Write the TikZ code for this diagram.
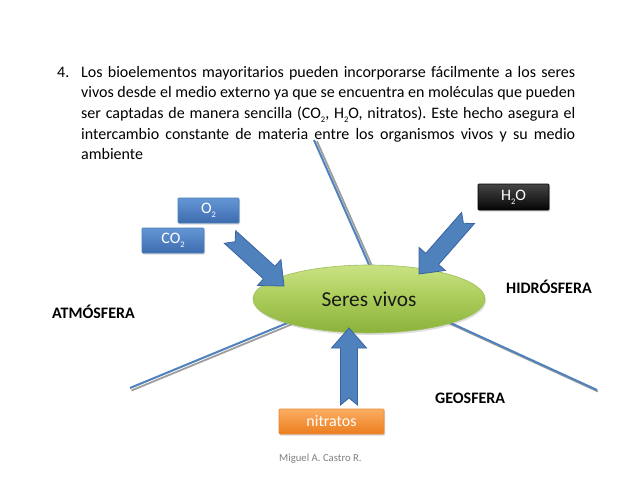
\documentclass[tikz,border=0pt]{standalone}
\usepackage{fontspec}
\setmainfont{Carlito}
\usetikzlibrary{calc,shapes.geometric,shadows}
\pgfdeclarelayer{bg}
\pgfsetlayers{bg,main}
\frenchspacing
\definecolor{accblue}{HTML}{4F81BD}
\definecolor{accblueD}{HTML}{3A64A0}
\definecolor{bbT}{HTML}{6496D6}
\definecolor{bbB}{HTML}{3D6CAE}
\definecolor{bbD}{HTML}{4A7EBB}
\definecolor{kbT}{HTML}{454545}
\definecolor{kbB}{HTML}{050505}
\definecolor{obT}{HTML}{FBAE62}
\definecolor{obB}{HTML}{EC7D1E}
\definecolor{obD}{HTML}{E68A36}
\definecolor{elT}{HTML}{CAE283}
\definecolor{elM}{HTML}{A9CC58}
\definecolor{elB}{HTML}{8CB23B}
\definecolor{elD}{HTML}{9DBE5C}
\newcommand\lowsub[1]{\raisebox{-0.5ex}{\fontsize{8.5}{9}\selectfont #1}}
\newcommand\blockarr[2]{%
  \coordinate (ba-hb) at ($(#2)!20pt!(#1)$);
  \coordinate (ba-nt) at ($(#1)!7pt!(#2)$);
  \filldraw[arrowst] ($(#1)!8.5pt!90:(#2)$) -- ($(ba-hb)!8.5pt!-90:(#1)$)
    -- ($(ba-hb)!17.5pt!-90:(#1)$) -- (#2) -- ($(ba-hb)!17.5pt!90:(#1)$)
    -- ($(ba-hb)!8.5pt!90:(#1)$) -- ($(#1)!8.5pt!-90:(#2)$) -- (ba-nt) -- cycle;
}
\begin{document}
\begin{tikzpicture}[x=1pt,y=-1pt,
  bodytext/.style={font=\fontsize{16}{20.7}\selectfont, text=black},
  sphere/.style={font=\fontsize{16}{19}\selectfont\bfseries, anchor=base west, inner sep=0pt},
  boxbase/.style={rectangle, minimum height=25pt, inner sep=0pt, rounded corners=0.8pt,
    text=white, font=\fontsize{16}{19}\selectfont,
    drop shadow={shadow xshift=1pt, shadow yshift=-1.5pt, opacity=0.3}},
  bluebox/.style={boxbase, top color=bbT, bottom color=bbB, draw=bbD, line width=0.6pt},
  blackbox/.style={boxbase, top color=kbT, bottom color=kbB, draw=black, line width=0.6pt},
  orangebox/.style={boxbase, top color=obT, bottom color=obB, draw=obD, line width=0.6pt},
  blueline/.style={draw=accblue, line width=2pt, shorten <=-12pt},
  greyline/.style={draw=black!38, line width=1.8pt, shorten <=-12pt},
  arrowst/.style={fill=accblue, draw=accblueD, line width=0.8pt, line join=miter},
]
\useasboundingbox (0,0) rectangle (638,479);

% central ellipse
\node[ellipse, minimum width=232pt, minimum height=68pt, inner sep=0pt,
  top color=elT, bottom color=elB, middle color=elM, draw=elD, line width=0.6pt,
  font=\fontsize{21.3}{24}\selectfont, text=black!90,
  drop shadow={shadow xshift=1pt, shadow yshift=-2pt, opacity=0.25}] (sv) at (369,299) {Seres vivos};

% free ends of the dividing lines
\coordinate (ltop) at (314,140);
\coordinate (lbl) at (130,388);
\coordinate (lbr) at (597,390);

\begin{pgfonlayer}{bg}
  \fill[white] (0,0) rectangle (638,479);
  \draw[greyline] ([shift={(3,1.2)}]sv.north) -- ([shift={(3,1.2)}]ltop);
  \draw[blueline] (sv.north) -- (ltop);
  \draw[greyline] ([shift={(1.5,2.5)}]sv.south west) -- ([shift={(1.5,2.5)}]lbl);
  \draw[blueline] (sv.south west) -- (lbl);
  \draw[greyline] ([shift={(1,1.5)}]sv.south east) -- ([shift={(1,1.5)}]lbr);
  \draw[blueline] (sv.south east) -- (lbr);
\end{pgfonlayer}

% paragraph
\node[anchor=base west, inner sep=0pt, bodytext] (par) at (57,77) {\vtop{\baselineskip=20.7pt
  \hbox{\makebox[24pt][l]{4.}\makebox[494pt][s]{Los bioelementos mayoritarios pueden incorporarse fácilmente a los seres}}
  \hbox{\hspace*{24pt}\makebox[494pt][s]{vivos desde el medio externo ya que se encuentra en moléculas que pueden}}
  \hbox{\hspace*{24pt}\makebox[494pt][s]{ser captadas de manera sencilla (CO\lowsub{2}, H\lowsub{2}O, nitratos). Este hecho asegura el}}
  \hbox{\hspace*{24pt}\makebox[494pt][s]{intercambio constante de materia entre los organismos vivos y su medio}}
  \hbox{\hspace*{24pt}ambiente}}};

% boxes
\node[bluebox, minimum width=61pt] (o2) at (208.5,210.5) {O\lowsub{2}};
\node[bluebox, minimum width=62pt] (co2) at (173,240.5) {CO\lowsub{2}};
\node[blackbox, minimum width=71pt, minimum height=26pt] (h2o) at (513.5,197) {H\lowsub{2}O};
\node[orangebox, minimum width=105pt] (nit) at (331.5,421.5) {nitratos};

% block arrows
\coordinate (o2t) at (230,237);
\coordinate (o2h) at (284,286);
\coordinate (h2t) at (468,218);
\coordinate (h2h) at (419,274);
\coordinate (nit) at (349,405);
\coordinate (nih) at (349,328);
\blockarr{o2t}{o2h}
\blockarr{h2t}{h2h}
\blockarr{nit}{nih}

% sphere labels
\node[sphere] (atm) at (52,318) {ATMÓSFERA};
\node[sphere] (hid) at (506,293) {HIDRÓSFERA};
\node[sphere] (geo) at (435,403) {GEOSFERA};
\node[anchor=base west, inner sep=0pt, font=\fontsize{10.7}{13}\selectfont, text=black!50] (aut) at (279,461) {Miguel A. Castro R.};
\end{tikzpicture}
\end{document}
